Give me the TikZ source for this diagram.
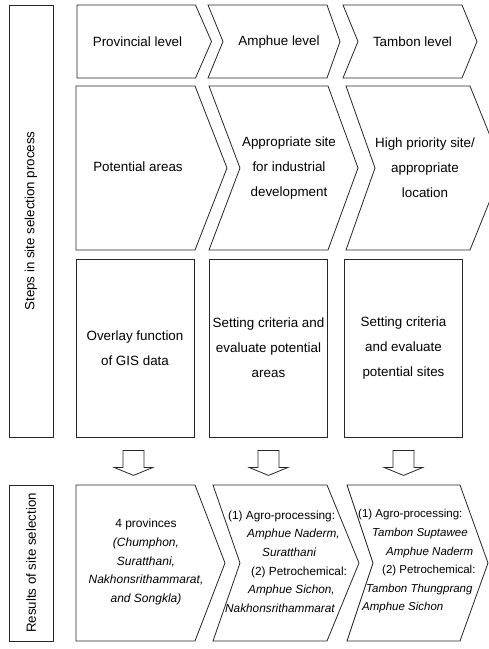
\documentclass[tikz,border=0pt]{standalone}
\usepackage{fontspec}
\setmainfont{Liberation Sans}
\begin{document}
\begin{tikzpicture}[x=1pt,y=-1pt,
  shp/.style={draw=black!85,line width=0.8pt},
  lbl/.style={font=\fontsize{13.4}{25}\selectfont,align=center,inner sep=0pt},
  lbs/.style={font=\fontsize{12}{18.6}\selectfont,align=center,inner sep=0pt},
  sidebox/.style={shp,rotate=90,minimum height=44pt,inner sep=0pt,font=\fontsize{13.3}{16}\selectfont},
  rbox/.style={shp,minimum width=118pt,minimum height=178pt,inner sep=0pt,align=center,font=\fontsize{13.4}{25}\selectfont},
  blockarrow/.pic={\draw[shp,line join=miter] (-10.5,0) -- (10.5,0) -- (10.5,17) -- (19.5,17) -- (0,25) -- (-19.5,17) -- (-10.5,17) -- cycle;}
]
\useasboundingbox (0,0) rectangle (489,649);
\begin{scope}
\clip (0,0) rectangle (489,649);
% side boxes
\node[sidebox,minimum width=432pt] (steps) at (31,221) {Steps in site selection process};
\node[sidebox,minimum width=156pt] (res) at (31,563) {Results of site selection};
% row 1
\draw[shp] (77,5) -- (195.5,5) -- (211.5,41.5) -- (195.5,78) -- (77,78) -- cycle;
\draw[shp] (208,5) -- (327,5) -- (340,41.5) -- (327,78) -- (208,78) -- (223,41.5) -- cycle;
\draw[shp] (343,5) -- (462,5) -- (477,41.5) -- (462,78) -- (343,78) -- (358,41.5) -- cycle;
\node[lbl] (l1) at (137.5,42) {Provincial level};
\node[lbl] (l2) at (279,42) {Amphue level};
\node[lbl] (l3) at (412.5,42) {Tambon level};
% row 2
\draw[shp] (76,86) -- (195,86) -- (227,168) -- (195,250) -- (76,250) -- cycle;
\draw[shp] (209,86) -- (328,86) -- (358,168) -- (328,250) -- (209,250) -- (240,168) -- cycle;
\draw[shp] (346,86) -- (470,86) -- (503,168) -- (470,250) -- (346,250) -- (375,168) -- cycle;
\node[lbl] (p1) at (138,167) {Potential areas};
\node[lbl] (p2) at (289,168) {Appropriate site\\for industrial\\development};
\node[lbl] (p3) at (425,168) {High priority site/\\appropriate\\location};
% row 3
\node[rbox] (s1) at (135,348) {Overlay function\\of GIS data};
\node[rbox] (s2) at (268.5,348) {Setting criteria and\\evaluate potential\\areas};
\node[rbox] (s3) at (403.5,348) {Setting criteria\\and evaluate\\potential sites};
% arrows
\pic at ([xshift=-1.5pt,yshift=-13pt]s1.south) {blockarrow};
\pic at ([yshift=-13pt]s2.south) {blockarrow};
\pic at ([yshift=-13pt]s3.south) {blockarrow};
% row 4
\draw[shp] (76,485) -- (195,485) -- (225,563) -- (195,641) -- (76,641) -- cycle;
\draw[shp] (213,485) -- (327,485) -- (359,563) -- (327,641) -- (213,641) -- (240,563) -- cycle;
\draw[shp] (347,485) -- (460,485) -- (488,563) -- (460,641) -- (347,641) -- (373,563) -- cycle;
\node[lbs] (r1) at (146,562) {4 provinces\\\textit{(Chumphon,}\\\textit{Suratthani,}\\\textit{Nakhonsrithammarat,}\\\textit{and Songkla)}};
\node[lbs,font=\fontsize{11.8}{18.6}\selectfont,align=left,anchor=west] (r2) at (225,561.5) {\hspace*{3pt}(1) Agro-processing:\\\hspace*{22pt}\textit{Amphue Naderm,}\\\hspace*{37pt}\textit{Suratthani}\\\hspace*{26pt}(2) Petrochemical:\\\hspace*{23pt}\textit{Amphue Sichon,}\\\textit{Nakhonsrithammarat}};
\node[lbs,font=\fontsize{11.5}{18.6}\selectfont,align=left,anchor=west] (r3) at (358,561.5) {(1) Agro-processing:\\\hspace*{14pt}\textit{Tambon Suptawee}\\\hspace*{28pt}\textit{Amphue Naderm}\\\hspace*{24pt}(2) Petrochemical:\\\hspace*{8pt}\textit{Tambon Thungprang}\\\hspace*{4pt}\textit{Amphue Sichon}};
\end{scope}
\end{tikzpicture}
\end{document}
